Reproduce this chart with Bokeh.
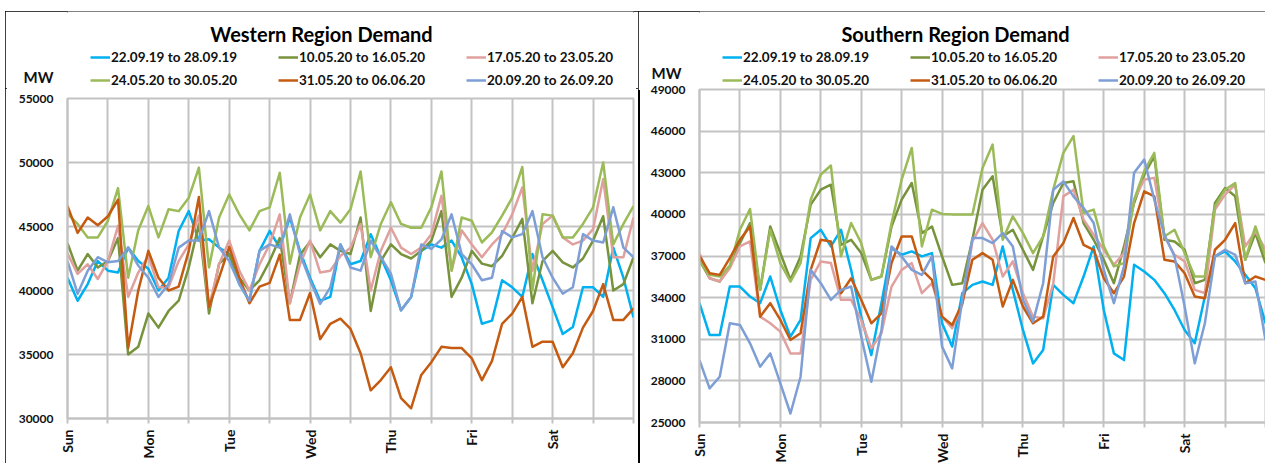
import math
from bokeh.plotting import figure
from bokeh.models import (Range1d, FixedTicker, Legend, LegendItem, Label,
                          PrintfTickFormatter)
from bokeh.layouts import row, column
from bokeh.embed import file_html
from bokeh.resources import INLINE

# ---------------- data ----------------
hours = [3 * i for i in range(57)]          # Sun 00:00 ... Sat 24:00, every 3 h
day_names = ["Sun", "Mon", "Tue", "Wed", "Thu", "Fri", "Sat"]
series_labels = ["22.09.19 to 28.09.19", "10.05.20 to 16.05.20", "17.05.20 to 23.05.20",
                 "24.05.20 to 30.05.20", "31.05.20 to 06.06.20", "20.09.20 to 26.09.20"]
series_colors = ["#00B0F0", "#77933C", "#E0A09E", "#9BBB59", "#C55A11", "#7E9FD6"]

west_ticks = [30000, 35000, 40000, 45000, 50000, 55000]
south_ticks = [25000, 28000, 31000, 34000, 37000, 40000, 43000, 46000, 49000]

west_220919 = [41000, 39200, 40500, 42300, 41550, 41400, 43350, 42300,
               41700, 40000, 41000, 44650, 46200, 43900, 44000, 43350,
               42850, 40500, 39200, 43100, 44650, 43350, 45700, 43100,
               41000, 39200, 39500, 43600, 42050, 42300, 44400, 42600,
               40800, 38450, 39500, 43100, 43600, 43350, 43900, 42600,
               40500, 37400, 37650, 40800, 40250, 39500, 42850, 40800,
               38700, 36600, 37150, 40250, 40250, 39500, 43350, 41000,
               37900]
west_100520 = [43700, 41550, 42850, 41800, 42300, 44100, 35000, 35600,
               38200, 37100, 38400, 39200, 41800, 45200, 38200, 42100,
               42800, 41000, 40000, 40800, 42300, 44100, 39000, 42800,
               43800, 42600, 43600, 43100, 42850, 45700, 38400, 42300,
               43600, 42850, 42500, 43100, 43900, 46200, 39500, 41000,
               43100, 42100, 41900, 42700, 44100, 45600, 39000, 42300,
               43100, 42200, 41800, 42500, 43900, 45800, 40000, 40500,
               42600]
west_170520 = [42900, 41300, 42050, 40900, 42300, 45050, 39500, 41400,
               42700, 40250, 40250, 42300, 43600, 45850, 38700, 42050,
               43900, 41550, 40000, 42050, 43600, 45950, 39000, 42050,
               43900, 41400, 41550, 42700, 43350, 45200, 40000, 43100,
               44900, 43350, 42850, 43350, 44400, 47400, 41550, 44700,
               43600, 42600, 43600, 44400, 45950, 48050, 41550, 45200,
               45850, 44150, 43600, 43900, 44800, 48700, 42600, 42600,
               45700]
west_240520 = [46000, 45200, 44150, 44150, 45450, 48000, 41000, 44700,
               46600, 44150, 46350, 46200, 47250, 49600, 41800, 45700,
               47500, 45950, 44700, 46200, 46500, 49200, 42100, 45700,
               47500, 44700, 46200, 45300, 46350, 49300, 42600, 45200,
               46900, 45200, 44900, 44900, 46500, 49300, 41550, 45700,
               45450, 43750, 44550, 45850, 47250, 49650, 40000, 45950,
               45850, 44150, 44150, 45200, 46500, 50000, 43600, 45200,
               46600]
west_310520 = [46600, 44500, 45700, 45100, 45800, 47100, 35500, 40000,
               43100, 41000, 40000, 40300, 43100, 47300, 38700, 41000,
               43400, 41000, 39000, 40300, 40600, 42800, 37700, 37700,
               39800, 36200, 37400, 37800, 37000, 35100, 32200, 33000,
               34000, 31600, 30800, 33400, 34400, 35600, 35500, 35500,
               34700, 33000, 34500, 37400, 38200, 39500, 35600, 36000,
               36000, 34000, 35100, 37100, 38400, 40500, 37700, 37700,
               38600]
west_200920 = [42300, 39750, 41550, 42600, 42200, 42300, 43350, 41950,
               41000, 39500, 40500, 43350, 43900, 43900, 46200, 43350,
               42300, 40500, 39200, 43100, 43600, 43350, 45950, 42850,
               40800, 38950, 40250, 43600, 41800, 41550, 43900, 42600,
               41300, 38450, 39500, 43600, 43250, 44000, 45950, 42850,
               42050, 40800, 41000, 44650, 44150, 44400, 46200, 42600,
               41000, 39750, 40250, 44400, 43900, 43750, 46500, 43350,
               42600]

south_220919 = [33600, 31310, 31310, 34800, 34800, 34080, 33600, 35520,
                33110, 31190, 32390, 38290, 38890, 37690, 38890, 36000,
                32630, 29860, 33600, 37570, 37090, 37330, 36970, 37210,
                32150, 30470, 34320, 34920, 35160, 34920, 37690, 34560,
                31670, 29260, 30230, 34920, 34200, 33600, 35520, 37690,
                33110, 29980, 29500, 36370, 35880, 35280, 34320, 33110,
                31670, 30710, 34080, 36970, 37330, 36610, 35640, 34680,
                32150]
south_100520 = [36700, 35400, 35160, 36250, 37930, 39375, 34560, 39130,
                37210, 35280, 36970, 40700, 41780, 42140, 37810, 38170,
                37210, 35280, 35520, 39130, 41060, 42260, 38650, 39130,
                36970, 34920, 35040, 38170, 41780, 42750, 38410, 38890,
                37450, 36000, 38410, 40820, 42260, 42380, 39375, 38170,
                36730, 35040, 37690, 40820, 42870, 44190, 38170, 38050,
                37450, 35040, 35280, 40820, 41900, 41300, 36730, 38650,
                36490]
south_170520 = [37200, 35400, 35160, 36120, 37690, 38050, 32630, 32150,
                31550, 29980, 29980, 35280, 36610, 36490, 33840, 33840,
                32390, 30350, 31430, 34800, 36000, 36490, 34320, 35040,
                32630, 31790, 33480, 38050, 39375, 38170, 35520, 36610,
                34320, 32630, 32510, 35000, 41300, 41780, 39620, 38530,
                37450, 36370, 37210, 41060, 42500, 42630, 38410, 37090,
                36610, 34560, 34320, 40340, 41420, 42140, 37690, 38770,
                37450]
south_240520 = [36600, 35640, 35520, 36300, 38890, 40390, 34560, 38890,
                36490, 35160, 36490, 41060, 42870, 43520, 36970, 39375,
                37930, 35280, 35520, 39375, 42500, 44790, 37690, 40340,
                40030, 40000, 40000, 40000, 43350, 45030, 38170, 39860,
                38650, 37210, 38410, 41780, 44430, 45640, 40100, 40340,
                37690, 36250, 36490, 41060, 43110, 44430, 38410, 38890,
                37210, 35520, 35520, 40580, 41780, 42260, 36730, 39130,
                36970]
south_310520 = [37000, 35760, 35640, 36850, 38170, 39130, 32630, 33600,
                32390, 30950, 31430, 36000, 38170, 38050, 34320, 35400,
                33840, 32150, 32870, 36490, 38410, 38410, 36000, 35280,
                32630, 32030, 33600, 36730, 37210, 36730, 33360, 35280,
                33360, 32150, 32630, 36970, 37930, 39740, 37810, 37450,
                35400, 34320, 35520, 39375, 41660, 41300, 36730, 36610,
                35760, 34080, 33960, 37450, 38170, 39375, 35040, 35520,
                35280]
south_200920 = [29500, 27460, 28300, 32150, 32030, 30710, 29020, 29980,
                27820, 25650, 28300, 36000, 35040, 33840, 34560, 34800,
                31190, 27940, 31670, 37690, 36970, 36000, 35640, 36970,
                30470, 28900, 33840, 38290, 38290, 37930, 38650, 37690,
                33840, 32270, 35040, 41780, 42380, 41300, 40460, 39375,
                36000, 33600, 36250, 43000, 43950, 41060, 38530, 36970,
                33360, 29260, 32150, 36970, 37450, 37090, 35040, 35160,
                30950]

west_series = [west_220919, west_100520, west_170520, west_240520, west_310520, west_200920]
south_series = [south_220919, south_100520, south_170520, south_240520, south_310520, south_200920]

# ---------------- styling ----------------
FONT = "Lato"
GRID = "#C3C3C3"
TEXT = "#111111"
NAN = float("nan")


def build_header(title, width, borders, page_x, page_y, title_xy, mw_y, mw_standoff, legend_loc):
    """Title, 'MW' unit and legend band above the plot frame.
    Its ranges are set to the page pixel span of its frame."""
    left, right = borders
    hp = figure(width=width, height=page_y[1] - page_y[0], title=None,
                x_range=Range1d(page_x[0], page_x[1]),
                y_range=Range1d(page_y[1], page_y[0]),
                output_backend="svg", toolbar_location=None,
                min_border_left=left, min_border_right=right,
                min_border_top=0, min_border_bottom=0)
    hp.outline_line_color = None
    hp.background_fill_color = "white"
    hp.border_fill_color = "white"
    hp.xgrid.visible = False
    hp.ygrid.visible = False
    hp.xaxis.visible = False
    ya = hp.yaxis[0]
    ya.ticker = FixedTicker(ticks=[mw_y], minor_ticks=[])
    ya.major_label_overrides = {mw_y: "MW"}
    ya.major_label_text_font = FONT
    ya.major_label_text_font_style = "bold"
    ya.major_label_text_font_size = "15px"
    ya.major_label_text_color = TEXT
    ya.major_label_standoff = mw_standoff
    ya.major_tick_out = 0
    ya.major_tick_in = 0
    ya.major_tick_line_color = None
    ya.minor_tick_line_color = None
    ya.axis_line_color = None

    keys = []
    for color in series_colors:
        keys.append(hp.line([NAN], [NAN], line_color=color, line_width=2.5))
    legend = Legend(items=[LegendItem(label=lab, renderers=[r])
                           for lab, r in zip(series_labels, keys)],
                    location=legend_loc, orientation="horizontal", ncols=3,
                    border_line_color=None, background_fill_alpha=0,
                    padding=0, margin=0, spacing=3,
                    glyph_width=20, glyph_height=20, label_height=20,
                    label_width=164, label_standoff=1,
                    label_text_font=FONT, label_text_font_style="bold",
                    label_text_font_size="13.5px", label_text_color=TEXT)
    hp.add_layout(legend, "center")
    hp.add_layout(Label(x=title_xy[0], y=title_xy[1], text=title,
                        text_align="center", text_baseline="middle",
                        text_font=FONT, text_font_style="bold",
                        text_font_size="20px", text_color="#000000"))
    return hp


def build_main(series, y_ticks, width, height, borders, overlap=0):
    left, right, top, bottom = borders
    p = figure(width=width, height=height, title=None,
               x_range=Range1d(0, 7), y_range=Range1d(y_ticks[0], y_ticks[-1]),
               output_backend="svg", toolbar_location=None,
               min_border_left=left, min_border_right=right,
               min_border_top=top, min_border_bottom=bottom,
               margin=(-overlap, 0, 0, 0))
    p.background_fill_color = "white"
    p.border_fill_color = "white"
    if overlap:
        p.border_fill_alpha = 0
    p.outline_line_color = GRID
    p.outline_line_width = 2

    half_days = [i * 0.5 for i in range(15)]
    overrides = {t: "" for t in half_days}
    for i, name in enumerate(day_names):
        overrides[float(i)] = name

    xa = p.xaxis[0]
    xa.ticker = FixedTicker(ticks=half_days, minor_ticks=[])
    xa.major_label_overrides = overrides
    xa.major_label_orientation = math.pi / 2
    xa.major_label_text_font = FONT
    xa.major_label_text_font_style = "bold"
    xa.major_label_text_font_size = "14px"
    xa.major_label_text_color = TEXT
    xa.major_label_standoff = 6
    xa.major_tick_out = 5
    xa.major_tick_in = 0
    xa.major_tick_line_color = GRID
    xa.major_tick_line_width = 2
    xa.minor_tick_line_color = None
    xa.axis_line_color = GRID
    xa.axis_line_width = 2

    ya = p.yaxis[0]
    ya.ticker = FixedTicker(ticks=y_ticks, minor_ticks=[])
    ya.formatter = PrintfTickFormatter(format="%d")
    ya.major_label_text_font = FONT
    ya.major_label_text_font_style = "bold"
    ya.major_label_text_font_size = "12px"
    ya.major_label_text_color = TEXT
    ya.major_label_standoff = 14
    ya.major_tick_out = 0
    ya.major_tick_in = 0
    ya.major_tick_line_color = None
    ya.minor_tick_line_color = None
    ya.axis_line_color = GRID
    ya.axis_line_width = 2

    p.xgrid.ticker = FixedTicker(ticks=half_days)
    p.ygrid.ticker = FixedTicker(ticks=y_ticks)
    for g in (p.xgrid[0], p.ygrid[0]):
        g.grid_line_color = GRID
        g.grid_line_width = 2

    days = [h / 24 for h in hours]
    for vals, color in zip(series, series_colors):
        p.line(days, vals, line_color=color, line_width=2.5, line_join="round")
    return p


BOX = {"outline": "2px solid black", "outline-offset": "-2px"}

# Western panel: page x 5..638, frame x 67..633
w_head = build_header("Western Region Demand", 633, (62, 5), (67, 633), (11, 88),
                      (321, 33), 76, 14, (23, -2))
w_main = build_main(west_series, west_ticks, 633, 377, (62, 5, 10, 47))
w_col = column(w_head, w_main, spacing=0,
               styles=dict(BOX, **{"clip-path": "inset(0 0 2px 0)"}))

# Southern panel: page x 638..1267, frame x 699..1265
# (the plot's transparent top border overlaps the legend band by 8 px)
s_head = build_header("Southern Region Demand", 629, (61, 2), (699, 1265), (11, 90),
                      (955, 33), 72, 18, (23, 0))
s_main = build_main(south_series, south_ticks, 629, 383, (61, 2, 7, 43), overlap=8)
s_col = column(s_head, s_main, spacing=0,
               styles=dict(BOX, **{"clip-path": "inset(0 2px 2px 0)"}))

layout = row(w_col, s_col, spacing=0, margin=(11, 0, 0, 5))
open("out.html", "w").write(file_html(layout, INLINE))
